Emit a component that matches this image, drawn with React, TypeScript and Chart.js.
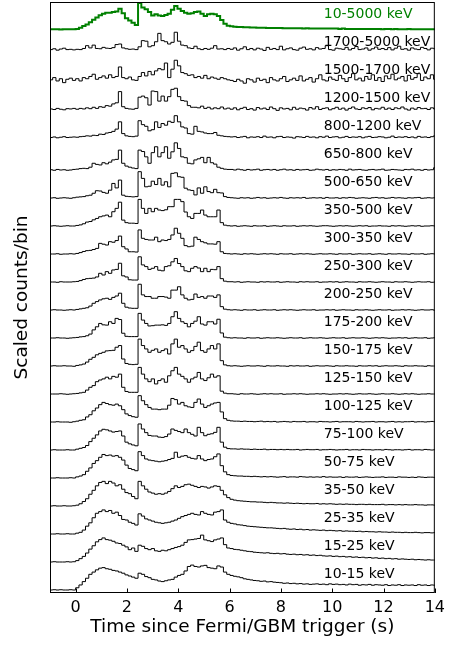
import { useEffect, useRef } from "react";
import { Chart, registerables } from "chart.js";

Chart.register(...registerables);

// Binning of the light curves (seconds)
const TIME_START = -1.024;
const BIN_WIDTH = 0.128;
const X_MIN = -1;
const X_MAX = 14;
const X_TICKS = [0, 2, 4, 6, 8, 10, 12, 14];

const BAND_LABELS = [
  "10-15 keV", "15-25 keV", "25-35 keV", "35-50 keV", "50-75 keV", "75-100 keV",
  "100-125 keV", "125-150 keV", "150-175 keV", "175-200 keV", "200-250 keV",
  "250-300 keV", "300-350 keV", "350-500 keV", "500-650 keV", "650-800 keV",
  "800-1200 keV", "1200-1500 keV", "1500-1700 keV", "1700-5000 keV", "10-5000 keV",
];

// Scaled counts per bin, in hundredths of the curve spacing
const band_10_15 = [
  0,1,0,1,0,0,1,0,8,18,
  30,42,56,64,72,78,80,76,74,70,
  68,64,60,54,50,46,42,60,56,48,
  44,38,36,32,30,33,36,38,46,52,
  56,68,84,89,84,82,86,88,80,78,
  76,86,82,64,56,52,49,47,44,40,
  38,36,34,33,31,32,29,30,28,27,
  26,24,25,23,24,22,23,21,22,20,
  21,22,20,21,19,22,20,21,19,20,
  18,21,19,20,17,19,18,20,17,19,
  18,17,19,16,18,17,19,16,18,17,
  18,16,19,17,18,16,18,17,
];
const band_15_25 = [
  0,1,0,0,0,1,0,1,5,12,
  20,32,46,58,72,80,86,80,78,74,
  68,66,60,54,44,50,38,60,56,48,
  44,48,40,38,42,40,44,48,52,55,
  60,70,79,80,82,84,96,79,76,73,
  79,82,86,62,50,48,45,44,42,40,
  38,37,35,34,33,32,33,31,30,31,
  29,30,28,27,28,26,27,25,26,24,
  25,23,24,22,21,22,20,21,19,20,
  18,19,17,18,16,17,15,16,14,15,
  13,14,12,13,11,12,10,11,10,9,
  10,8,9,8,7,8,7,7,
];
const band_25_35 = [
  0,0,1,0,0,1,0,0,3,6,
  14,28,40,58,74,80,86,80,84,74,
  78,66,52,50,42,38,32,72,64,54,
  50,46,42,40,38,40,42,46,50,56,
  62,66,70,74,70,68,80,74,70,68,
  78,80,86,50,42,38,36,33,32,30,
  28,27,26,25,24,23,22,22,21,20,
  19,20,18,17,18,16,17,15,16,14,
  15,14,13,14,12,13,12,11,12,10,
  11,10,10,9,10,8,9,8,8,7,
  8,7,7,6,7,6,6,5,6,5,
  5,6,5,4,5,5,4,5,
];
const band_35_50 = [
  0,1,0,0,1,0,0,1,3,8,
  16,26,42,56,72,84,88,80,88,82,
  72,76,60,48,44,34,26,88,72,60,
  50,46,42,44,42,46,52,62,72,66,
  70,76,78,74,70,66,70,68,64,68,
  72,70,56,40,30,24,21,19,18,17,
  16,15,15,14,14,13,12,13,12,11,
  11,10,11,10,9,10,9,8,9,8,
  8,9,7,8,7,8,7,6,7,6,
  7,6,6,5,6,6,5,6,5,5,
  5,6,4,5,5,4,5,4,5,4,
  4,5,4,4,3,4,4,3,
];
const band_50_75 = [
  0,0,1,0,0,0,1,0,4,7,
  12,24,36,52,62,74,84,80,82,78,
  80,74,64,46,34,30,26,94,80,68,
  64,62,60,58,60,62,66,70,92,74,
  78,80,74,70,68,80,68,62,66,68,
  76,86,44,22,12,9,8,7,7,6,
  6,5,6,5,4,5,4,5,4,3,
  4,5,3,4,4,3,5,4,3,4,
  3,4,3,5,3,4,3,3,4,2,
  4,3,3,4,2,3,4,3,2,3,
  3,4,2,3,3,2,4,3,3,2,
  3,2,4,3,2,3,3,2,
];
const band_75_100 = [
  0,1,0,0,0,1,0,0,3,6,
  9,16,30,42,54,68,74,72,68,64,
  66,68,50,28,22,18,15,93,75,62,
  52,50,50,46,45,48,57,75,70,66,
  62,75,62,56,50,81,62,51,56,58,
  63,81,28,10,5,4,4,3,4,3,
  3,2,3,2,2,3,1,2,2,1,
  2,1,2,1,1,2,0,1,2,1,
  1,2,0,1,1,2,1,0,1,1,
  2,0,1,1,0,2,1,1,0,1,
  1,0,2,1,0,1,1,0,1,2,
  0,1,1,0,2,1,0,1,
];
const band_100_125 = [
  0,0,1,0,0,0,-1,1,3,6,
  8,18,26,40,50,62,70,66,62,60,
  64,58,44,29,23,19,17,94,76,62,
  52,46,46,44,46,46,60,84,80,64,
  70,58,54,52,70,82,64,52,58,64,
  68,70,36,12,6,4,3,3,2,3,
  2,2,1,2,3,1,2,1,2,0,
  1,2,1,0,2,1,1,2,0,1,
  1,0,2,1,1,0,1,2,0,1,
  1,1,0,2,1,0,1,1,2,0,
  1,1,0,1,2,0,1,0,1,1,
  2,0,1,1,0,1,2,1,
];
const band_125_150 = [
  0,0,0,1,0,-1,0,1,2,4,
  6,14,24,30,44,50,54,60,54,63,
  60,71,24,9,6,6,6,95,71,54,
  44,54,36,48,54,42,65,83,95,71,
  63,54,42,54,60,77,54,48,58,71,
  60,65,10,3,1,1,0,-1,1,0,
  0,1,0,-1,0,1,0,1,0,0,
  1,-1,0,0,1,0,1,0,-1,0,
  0,1,0,1,0,-1,0,0,1,0,
  1,0,-1,0,1,0,0,1,0,-1,
  0,1,0,0,1,0,-1,0,1,0,
  1,0,-1,0,0,1,0,0,
];
const band_150_175 = [
  0,1,0,0,1,0,0,-1,2,4,
  7,14,24,31,40,45,49,54,55,56,
  67,73,25,9,6,5,6,96,73,61,
  49,56,61,49,55,61,43,79,96,67,
  73,61,49,55,70,85,55,49,61,73,
  61,79,19,4,1,0,1,0,-1,0,
  1,0,0,1,0,-1,1,0,0,1,
  0,0,-1,1,0,1,0,0,1,-1,
  0,1,0,0,1,0,-1,1,0,0,
  1,0,0,-1,1,0,0,1,0,1,
  -1,0,1,0,0,1,0,-1,1,0,
  0,1,0,0,-1,1,0,0,
];
const band_175_200 = [
  0,0,1,0,0,-1,0,1,2,4,
  5,8,14,29,40,52,47,46,58,52,
  70,66,17,6,5,5,5,88,64,52,
  43,44,46,46,47,45,52,76,94,70,
  58,52,40,52,60,76,50,46,58,58,
  50,67,18,3,1,0,1,0,0,-1,
  1,0,0,1,-1,0,1,0,0,1,
  0,-1,0,1,0,0,1,-1,0,1,
  0,0,1,0,-1,0,1,0,0,1,
  -1,0,1,0,0,1,0,-1,0,1,
  0,1,0,-1,0,0,1,0,1,-1,
  0,1,0,0,1,-1,0,1,
];
const band_200_250 = [
  0,1,0,0,-1,0,1,0,2,4,
  6,8,14,24,30,36,40,42,38,45,
  50,60,24,10,7,6,6,92,54,48,
  48,42,42,48,48,46,42,71,71,83,
  54,42,36,38,57,45,48,42,50,50,
  45,54,12,3,1,0,1,0,-1,1,
  0,0,1,-1,0,1,0,0,1,-1,
  0,1,0,1,0,-1,0,1,0,0,
  1,-1,0,0,1,0,1,-1,0,1,
  0,0,-1,1,0,0,1,0,-1,0,
  1,0,0,1,-1,0,0,1,0,1,
  0,-1,0,1,0,0,1,-1,
];
const band_250_300 = [
  0,0,-1,1,0,0,0,1,2,5,
  9,12,13,14,18,31,25,37,31,43,
  45,67,22,18,8,7,7,90,61,55,
  45,49,55,42,40,55,58,72,84,66,
  55,40,37,49,55,50,37,49,37,45,
  44,55,12,3,1,1,0,1,-1,0,
  1,0,0,-1,1,0,1,0,0,1,
  -1,0,1,0,0,-1,1,0,1,0,
  0,1,-1,0,0,1,0,1,-1,0,
  1,0,0,-1,1,0,0,1,0,-1,
  0,1,0,0,-1,1,0,0,1,0,
  -1,0,1,0,0,1,-1,0,
];
const band_300_350 = [
  0,0,1,-1,0,0,1,0,2,5,
  9,12,13,16,20,38,35,32,44,42,
  48,64,26,18,8,8,7,86,56,52,
  50,50,60,44,50,48,52,68,92,74,
  56,30,26,28,60,52,44,40,36,36,
  35,44,8,2,1,0,1,0,-1,1,
  0,1,0,-1,0,1,0,1,0,-1,
  1,0,0,1,-1,0,1,0,1,0,
  -1,0,1,0,0,1,0,-1,1,0,
  0,1,-1,0,1,0,0,1,-1,0,
  1,0,-1,1,0,0,1,0,0,-1,
  1,0,0,1,-1,0,1,0,
];
const band_350_500 = [
  0,1,0,-1,0,1,0,0,2,4,
  8,14,16,22,27,33,36,39,33,51,
  63,85,21,12,10,10,9,95,63,45,
  63,51,63,57,55,58,69,69,95,95,
  87,50,33,27,45,45,57,39,33,33,
  33,57,12,3,1,0,1,-1,0,1,
  0,-1,1,0,0,1,-1,0,1,0,
  -1,1,0,0,1,-1,0,1,0,1,
  0,-1,0,1,1,0,-1,0,1,0,
  1,0,-1,0,1,0,1,-1,0,0,
  1,0,0,-1,1,0,1,0,-1,0,
  1,0,1,-1,0,0,1,0,
];
const band_500_650 = [
  0,1,-1,0,1,0,-1,1,3,4,
  5,8,10,17,26,25,20,17,28,52,
  36,64,10,6,5,4,5,94,70,40,
  42,60,48,70,46,58,40,88,90,76,
  74,35,29,27,11,36,17,40,23,19,
  31,19,18,5,2,1,0,-1,1,0,
  1,-1,0,2,0,1,-1,0,1,0,
  2,0,-1,1,0,1,0,2,-1,0,
  1,0,1,-1,2,0,0,1,-1,1,
  0,2,1,-1,0,1,0,-1,1,2,
  0,1,-1,0,2,0,1,0,-1,1,
  0,1,2,-1,0,1,0,1,
];
const band_650_800 = [
  1,-1,2,0,1,-1,0,2,3,5,
  6,5,10,24,20,18,26,22,28,36,
  38,71,24,14,10,7,5,71,66,47,
  24,62,83,47,62,83,42,65,97,77,
  47,44,24,22,36,40,45,26,45,26,
  21,10,6,3,2,2,0,3,1,-1,
  2,0,1,3,-1,1,2,0,2,-1,
  1,3,0,1,-1,2,0,1,2,-1,
  0,3,1,0,2,-1,1,0,2,1,
  -1,3,0,1,2,0,-1,1,2,0,
  1,3,-1,0,2,1,0,-1,2,1,
  3,0,1,-1,2,0,1,8,
];
const band_800_1200 = [
  16,18,15,17,19,16,17,18,17,19,
  20,22,21,24,23,28,27,32,34,38,
  46,72,30,22,20,19,21,76,62,56,
  40,44,72,52,66,60,74,70,94,72,
  54,50,30,28,56,38,36,32,30,30,
  34,24,22,20,19,18,19,16,18,20,
  15,18,17,19,16,21,17,18,15,19,
  20,16,18,17,14,19,18,16,20,17,
  18,15,19,17,21,16,18,19,15,17,
  20,16,18,17,19,15,18,20,16,17,
  19,18,15,17,21,16,18,17,19,16,
  18,15,20,17,18,16,19,22,
];
const band_1200_1500 = [
  18,16,20,17,15,19,18,20,17,20,
  18,22,19,24,20,26,24,30,28,36,
  40,80,26,20,18,17,20,60,64,58,
  32,82,80,46,64,46,62,88,92,62,
  48,46,30,24,24,22,28,20,24,18,
  22,19,25,18,21,17,22,15,20,24,
  16,19,14,23,18,21,16,25,19,13,
  22,18,20,15,24,17,21,19,14,23,
  18,26,16,20,22,15,19,24,17,21,
  14,20,25,18,16,22,19,23,15,20,
  18,24,17,21,16,22,19,25,18,14,
  21,17,23,19,20,16,22,18,
];
const band_1500_1700 = [
  22,30,18,26,12,24,28,20,26,18,
  30,26,34,42,24,30,36,28,40,30,
  34,68,30,26,32,22,20,34,48,36,
  52,40,54,62,58,82,30,60,92,72,
  48,44,38,40,30,34,28,38,26,32,
  28,24,30,26,22,20,16,24,18,10,
  26,22,14,28,20,24,12,30,22,18,
  26,34,16,22,28,20,36,18,24,30,
  14,26,40,22,18,32,24,20,38,26,
  16,30,44,22,28,18,34,24,40,20,
  30,16,36,26,42,22,28,34,18,38,
  24,30,44,20,32,26,40,24,
];
const band_1700_5000 = [
  30,33,28,32,35,30,31,29,31,30,
  34,44,36,46,34,33,38,35,34,37,
  48,50,36,33,31,32,30,40,62,60,
  40,44,58,88,62,58,50,56,92,60,
  46,44,36,34,42,33,30,34,31,35,
  44,32,33,30,34,31,36,28,33,40,
  30,34,29,35,32,27,38,31,34,30,
  42,29,33,36,30,28,35,39,31,33,
  29,37,32,34,44,30,28,35,33,31,
  38,29,34,41,30,32,36,28,33,39,
  31,34,30,37,29,35,42,31,33,28,
  36,32,30,38,34,29,35,33,
];
const band_10_5000 = [
  3,3,3,2,3,3,3,3,4,8,
  14,20,28,37,45,53,58,62,62,64,
  66,76,60,42,34,26,18,96,80,74,
  64,52,56,52,50,54,58,72,86,76,
  68,62,58,60,64,66,58,50,56,58,
  56,50,36,22,15,13,12,11,11,10,
  10,9,9,8,8,8,7,7,7,7,
  7,6,6,6,6,6,6,5,6,5,
  5,5,5,5,5,5,5,5,4,5,
  4,4,4,4,4,4,4,4,4,4,
  4,3,4,4,3,4,3,3,3,4,
  3,3,3,3,3,3,3,3,
];

const BAND_VALUES = [
  band_10_15, band_15_25, band_25_35, band_35_50, band_50_75, band_75_100,
  band_100_125, band_125_150, band_150_175, band_175_200, band_200_250,
  band_250_300, band_300_350, band_350_500, band_500_650, band_650_800,
  band_800_1200, band_1200_1500, band_1500_1700, band_1700_5000, band_10_5000,
];

const GREEN = "#008000";
const FONT = "'DejaVu Sans', sans-serif";
const Y_MIN = -0.107;
const Y_MAX = 21.0;
const LABEL_TIME = 9.67;
const LABEL_RAISE = 0.42;

const overlayPlugin = {
  id: "overlay",
  afterDatasetsDraw(chart: any) {
    const { ctx, chartArea: a, scales } = chart;
    const xs = scales.x;
    const ys = scales.y;
    ctx.save();
    ctx.font = `14px ${FONT}`;
    ctx.textAlign = "left";
    ctx.textBaseline = "alphabetic";
    BAND_LABELS.forEach((lab, k) => {
      ctx.fillStyle = k === BAND_LABELS.length - 1 ? GREEN : "#000";
      ctx.fillText(lab, xs.getPixelForValue(LABEL_TIME), ys.getPixelForValue(k + LABEL_RAISE));
    });
    ctx.strokeStyle = "#000";
    ctx.lineWidth = 1;
    ctx.strokeRect(a.left + 0.5, a.top + 0.5, a.right - a.left - 1, a.bottom - a.top - 1);
    X_TICKS.forEach((t) => {
      const px = Math.round(xs.getPixelForValue(t)) + 0.5;
      ctx.beginPath();
      ctx.moveTo(px, a.bottom);
      ctx.lineTo(px, a.bottom - 4.5);
      ctx.stroke();
    });
    ctx.restore();
  },
};

export default function App() {
  const ref = useRef<HTMLCanvasElement | null>(null);

  useEffect(() => {
    if (!ref.current) return;
    const datasets = BAND_VALUES.map((vals, k) => {
      const pts = vals.map((v, i) => ({ x: TIME_START + BIN_WIDTH * i, y: k + v / 100 }));
      pts.push({ x: TIME_START + BIN_WIDTH * vals.length, y: k + vals[vals.length - 1] / 100 });
      const top = k === BAND_VALUES.length - 1;
      return {
        label: BAND_LABELS[k],
        data: pts,
        stepped: "before" as const,
        borderColor: top ? GREEN : "#000",
        borderWidth: top ? 2 : 1,
        pointRadius: 0,
        fill: false,
      };
    });

    const chart = new Chart(ref.current, {
      type: "line",
      data: { datasets },
      options: {
        animation: false,
        responsive: false,
        events: [],
        layout: { padding: { left: 0, right: 12, top: 2, bottom: 0 } },
        plugins: { legend: { display: false }, tooltip: { enabled: false } },
        scales: {
          x: {
            type: "linear",
            min: X_MIN,
            max: X_MAX,
            afterBuildTicks: (scale: any) => {
              scale.ticks = X_TICKS.map((v) => ({ value: v }));
            },
            afterFit: (scale: any) => {
              scale.height = 52;
            },
            grid: { display: false, drawTicks: false },
            border: { display: false },
            ticks: {
              color: "#000",
              font: { family: FONT, size: 16 },
              padding: 5,
              maxRotation: 0,
              autoSkip: false,
            },
            title: {
              display: true,
              text: "Time since Fermi/GBM trigger (s)",
              color: "#000",
              font: { family: FONT, size: 18.5 },
              padding: { top: 0, bottom: 7 },
            },
          },
          y: {
            type: "linear",
            min: Y_MIN,
            max: Y_MAX,
            afterFit: (scale: any) => {
              scale.width = 50;
            },
            grid: { display: false, drawTicks: false },
            border: { display: false },
            ticks: { display: false },
            title: {
              display: true,
              text: "Scaled counts/bin",
              color: "#000",
              font: { family: FONT, size: 18.5 },
              padding: { top: 11, bottom: 0 },
            },
          },
        },
      },
      plugins: [overlayPlugin],
    });
    return () => chart.destroy();
  }, []);

  return (
    <div style={{ position: "absolute", left: 0, top: 0, width: 450, height: 645, background: "#fff" }}>
      <canvas ref={ref} width={450} height={645} style={{ display: "block" }} />
    </div>
  );
}
